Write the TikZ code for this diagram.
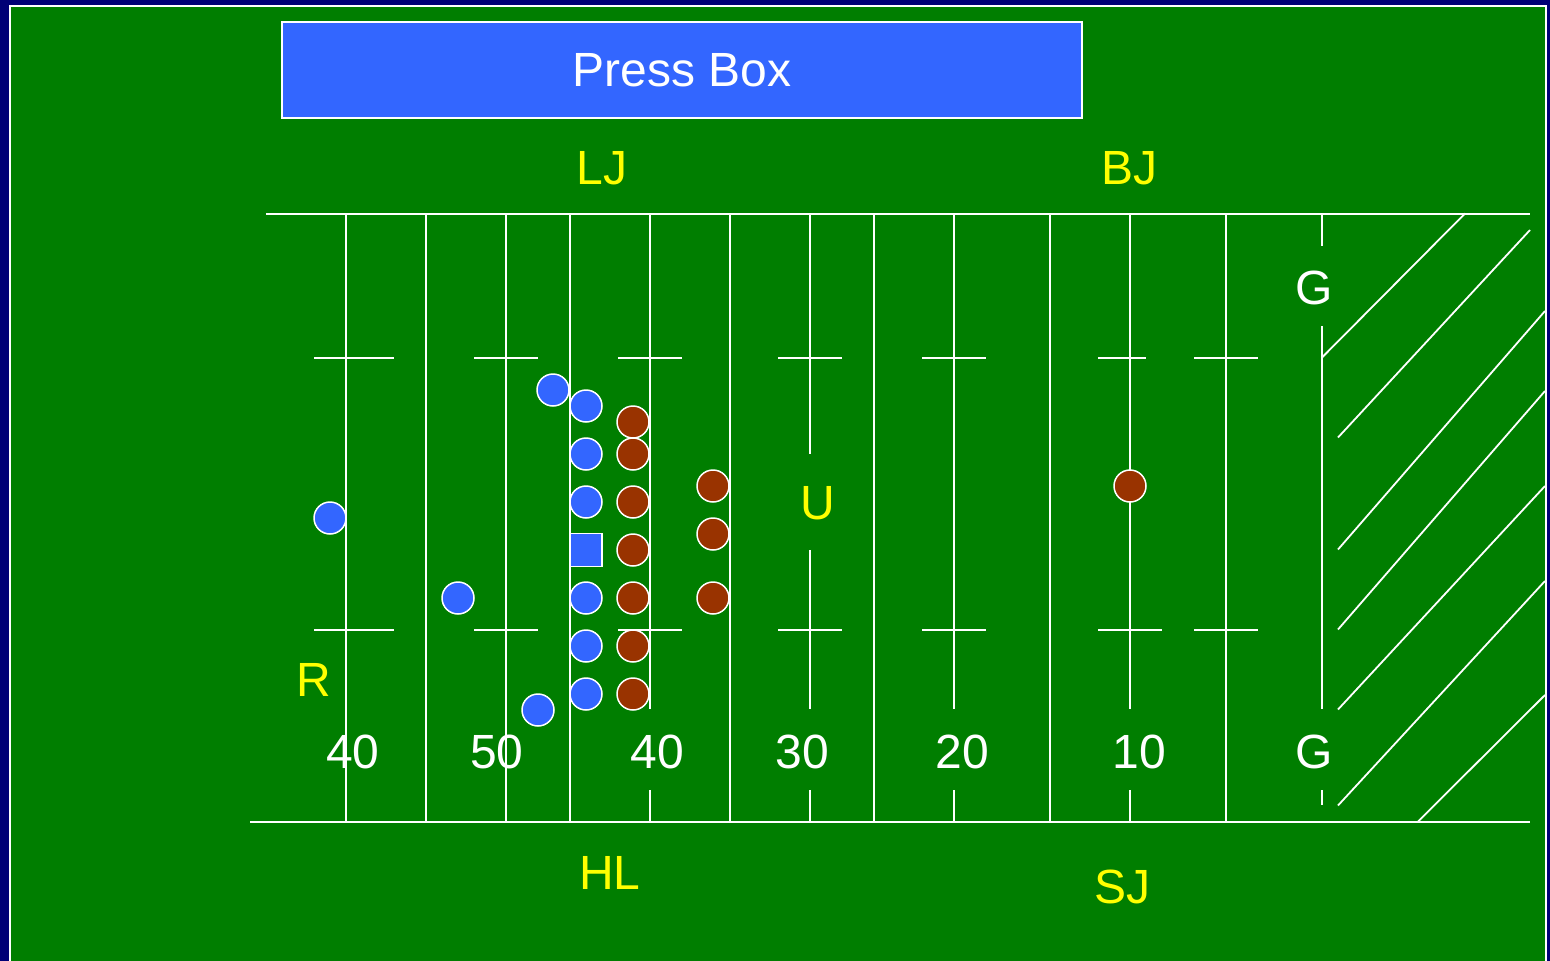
\documentclass[tikz,border=0pt]{standalone}
\usepackage{fontspec}
\setmainfont{Liberation Sans}
\definecolor{navybg}{RGB}{0,0,118}
\definecolor{fieldgreen}{RGB}{0,126,0}
\definecolor{pbblue}{RGB}{51,102,255}
\definecolor{defbrown}{RGB}{153,51,0}
\definecolor{offyellow}{RGB}{255,255,0}
\begin{document}
\begin{tikzpicture}[x=1pt,y=-1pt,
  fl/.style={white, line width=2pt},
  hatch/.style={white, line width=1.8pt},
  lbl/.style={text=offyellow, font=\fontsize{48}{52}\selectfont, inner sep=0pt},
  num/.style={text=white, font=\fontsize{48}{52}\selectfont, inner sep=0pt},
  offp/.style={circle, fill=pbblue, draw=white, line width=1.5pt, minimum size=32pt, inner sep=0pt},
  defp/.style={circle, fill=defbrown, draw=white, line width=1.5pt, minimum size=32pt, inner sep=0pt},
  ctr/.style={rectangle, fill=pbblue, draw=white, line width=1.5pt, minimum width=32pt, minimum height=33pt, inner sep=0pt}
]
\useasboundingbox (0,0) rectangle (1550,961);
\fill[navybg] (0,0) rectangle (1550,961);
\draw[white, line width=2pt, fill=fieldgreen] (10,5.5) rectangle (1546,975);

% press box
\node[draw=white, line width=2pt, fill=pbblue, minimum width=800pt, minimum height=96pt, inner sep=0pt,
  text=white, font=\fontsize{48}{52}\selectfont] (press) at (682,70) {\raisebox{-1pt}{Press Box}};

% sidelines
\draw[fl] (266,213.5) -- (1530,213.5);
\draw[fl] (250,821.5) -- (1530,821.5);

% full yard lines
\foreach \x in {346,426,506,570,730,874,1050,1226}
  \draw[fl] (\x,213.5) -- (\x,821.5);
% lines with gaps for numbers
\foreach \x in {650,954,1130} {
  \draw[fl] (\x,213.5) -- (\x,709);
  \draw[fl] (\x,790) -- (\x,821.5);
}
\draw[fl] (810,213.5) -- (810,454);
\draw[fl] (810,550) -- (810,709);
\draw[fl] (810,790) -- (810,821.5);
% goal line
\draw[fl] (1322,213.5) -- (1322,246);
\draw[fl] (1322,326) -- (1322,709);
\draw[fl] (1322,790) -- (1322,805);

% hash marks
\foreach \a/\b in {314/394,474/538,618/682,778/842,922/986,1194/1258} {
  \draw[fl] (\a,357.5) -- (\b,357.5);
  \draw[fl] (\a,629.5) -- (\b,629.5);
}
\draw[fl] (1098,357.5) -- (1146,357.5);
\draw[fl] (1098,629.5) -- (1162,629.5);

% end zone hatching
\draw[hatch] (1322,357.5) -- (1465,213.5);
\draw[hatch] (1338,437.5) -- (1530,230);
\draw[hatch] (1338,549.5) -- (1545,311);
\draw[hatch] (1338,629.5) -- (1545,391);
\draw[hatch] (1338,709.5) -- (1545,486);
\draw[hatch] (1338,805.5) -- (1545,581);
\draw[hatch] (1418,821.5) -- (1545,695);

% numbers
\node[num] (n40a) at (353,752) {40};
\node[num] (n50) at (497,752) {50};
\node[num] (n40b) at (657,752) {40};
\node[num] (n30) at (802,752) {30};
\node[num] (n20) at (962,752) {20};
\node[num] (n10) at (1139,752) {10};
\node[num] (gtop) at (1314,288) {G};
\node[num] (gbot) at (1314,752) {G};

% officials
\node[lbl] (lj) at (602,168) {LJ};
\node[lbl] (bj) at (1129,168) {BJ};
\node[lbl] (r) at (314,680) {R};
\node[lbl] (u) at (818,503) {U};
\node[lbl] (hl) at (610,873) {HL};
\node[lbl] (sj) at (1122,887) {SJ};

% offense
\node[offp] (o1) at (553,390) {};
\node[offp] (o2) at (586,406) {};
\node[offp] (o3) at (586,454) {};
\node[offp] (o4) at (586,502) {};
\node[ctr]  (oc) at (586,550) {};
\node[offp] (o5) at (586,598) {};
\node[offp] (o6) at (586,646) {};
\node[offp] (o7) at (586,694) {};
\node[offp] (o8) at (538,710) {};
\node[offp] (o9) at (458,598) {};
\node[offp] (o10) at (330,518) {};

% defense
\node[defp] (d1) at (633,422) {};
\node[defp] (d2) at (633,454) {};
\node[defp] (d3) at (633,502) {};
\node[defp] (d4) at (633,550) {};
\node[defp] (d5) at (633,598) {};
\node[defp] (d6) at (633,646) {};
\node[defp] (d7) at (633,694) {};
\node[defp] (d8) at (713,486) {};
\node[defp] (d9) at (713,534) {};
\node[defp] (d10) at (713,598) {};
\node[defp] (d11) at (1130,486) {};
\end{tikzpicture}
\end{document}
